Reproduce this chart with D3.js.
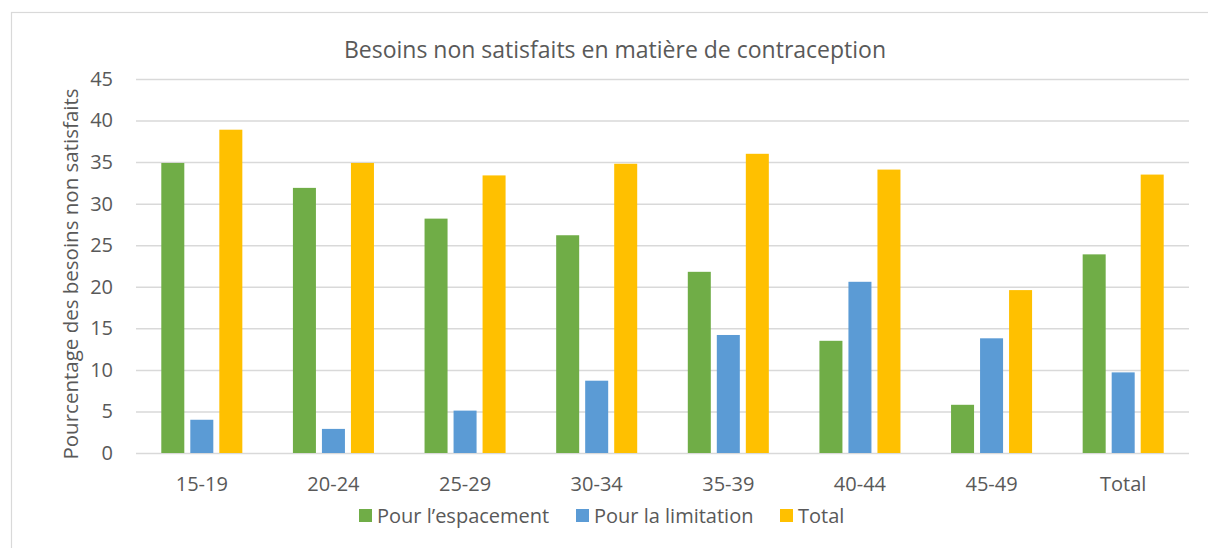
<!DOCTYPE html>
<html>
<head>
<meta charset="utf-8">
<script src="https://cdn.jsdelivr.net/npm/d3@7"></script>
<style>
    body { margin: 0; background: #fff; }
    #chart { width: 1208px; height: 548px; }
    text { font-family: 'Open Sans', sans-serif; fill: #595959; }
</style>
</head>
<body>
<div id="chart"></div>
<script>
//Datos
const categorias = ['15-19', '20-24', '25-29', '30-34', '35-39', '40-44', '45-49', 'Total'];
const series = ['Pour l\u2019espacement', 'Pour la limitation', 'Total'];
const espacement = [34.9, 31.9, 28.2, 26.2, 21.8, 13.5, 5.8, 23.9];
const limitation = [4.0, 2.9, 5.1, 8.7, 14.2, 20.6, 13.8, 9.7];
const total = [38.9, 34.9, 33.4, 34.8, 36.0, 34.1, 19.6, 33.5];
const yTicks = [0, 5, 10, 15, 20, 25, 30, 35, 40, 45];

//Colores fijos
const COLOR_GREEN = '#70AD47',
COLOR_BLUE = '#5B9BD5',
COLOR_YELLOW = '#FFC000';

let data = categorias.map(function(c, i) {
    return { cat: c, values: [espacement[i], limitation[i], total[i]] };
});

let margin = {top: 79, right: 19, bottom: 95, left: 136},
    width = 1208 - margin.left - margin.right,
    height = 548 - margin.top - margin.bottom;

let root = d3.select('#chart')
    .append('svg')
        .attr('width', 1208)
        .attr('height', 548);

//Marco
root.append('rect')
    .attr('x', 11.5)
    .attr('y', 12.5)
    .attr('width', 1210)
    .attr('height', 560)
    .attr('fill', 'none')
    .attr('stroke', '#d9d9d9')
    .attr('stroke-width', 1.2);

let svg = root.append('g')
    .attr('transform', 'translate(' + margin.left + ',' + margin.top + ')');

let x = d3.scaleBand()
    .domain(categorias)
    .range([0, width]);

let y = d3.scaleLinear()
    .domain([0, 45])
    .range([height, 0]);

let xSub = d3.scaleBand()
    .domain(series)
    .range([0, x.bandwidth()])
    .paddingInner(0.207)
    .paddingOuter(0.872);

let color = d3.scaleOrdinal()
    .domain(series)
    .range([COLOR_GREEN, COLOR_BLUE, COLOR_YELLOW]);

//Ejes
let yAxis = function(g) {
    g.call(d3.axisLeft(y).tickValues(yTicks).tickSize(-width).tickPadding(23));
    g.call(function(g){g.select('.domain').remove()});
    g.call(function(g){
        g.selectAll('.tick line')
            .attr('stroke', '#d9d9d9')
            .attr('stroke-width', 1.5);
    });
    g.selectAll('.tick text')
        .style('font-size', '20px')
        .attr('fill', '#595959');
};

svg.append('g').call(yAxis);

let xAxis = function(g) {
    g.call(d3.axisBottom(x).tickSize(0).tickPadding(24));
    g.call(function(g){g.select('.domain').remove()});
    g.selectAll('.tick text')
        .style('font-size', '20px')
        .attr('fill', '#595959');
};

svg.append('g')
    .attr('transform', 'translate(0,' + height + ')')
    .call(xAxis);

//Barras
svg.append('g')
    .selectAll('g')
    .data(data)
    .enter()
    .append('g')
    .attr('transform', function(d) { return 'translate(' + x(d.cat) + ',0)'; })
    .selectAll('rect')
    .data(function(d) { return series.map(function(key, i) { return {key: key, value: d.values[i]}; }); })
    .enter()
    .append('rect')
    .attr('x', function(d) { return xSub(d.key); })
    .attr('width', xSub.bandwidth())
    .attr('y', function(d) { return y(d.value); })
    .attr('height', function(d) { return y(0) - y(d.value); })
    .attr('fill', function(d) { return color(d.key); });

//Título
root.append('text')
    .attr('x', 615)
    .attr('y', 58)
    .attr('text-anchor', 'middle')
    .style('font-size', '23px')
    .text('Besoins non satisfaits en mati\u00e8re de contraception');

//Título eje Y
root.append('text')
    .attr('transform', 'translate(78,274) rotate(-90)')
    .attr('text-anchor', 'middle')
    .style('font-size', '20.5px')
    .text('Pourcentage des besoins non satisfaits');

//Leyenda
let legendX = [359, 576, 780];
let legend = root.append('g')
    .selectAll('g')
    .data(series)
    .enter()
    .append('g')
    .attr('transform', function(d, i) { return 'translate(' + legendX[i] + ',509)'; });

legend.append('rect')
    .attr('width', 13)
    .attr('height', 13)
    .attr('fill', function(d) { return color(d); });

legend.append('text')
    .attr('x', 18)
    .attr('y', 14)
    .style('font-size', '20px')
    .text(function(d) { return d; });
</script>
</body>
</html>
